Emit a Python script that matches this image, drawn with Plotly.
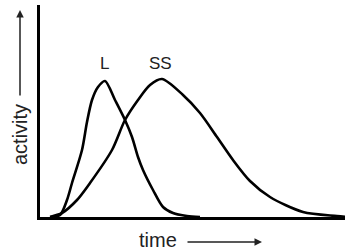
import plotly.graph_objects as go

# time / activity samples (arbitrary units)
l_time = [10, 20, 27, 32, 42, 47, 52, 58, 65, 75, 85, 92, 98, 103, 113, 123, 133, 147, 160]
l_activity = [0, 2, 17, 34, 67, 95, 117, 130, 136, 117, 97, 80, 60, 47, 27, 10, 4, 1, 0]

ss_time = [10, 22, 37, 50, 72, 85, 98, 110, 122, 143, 160, 177, 193, 210, 230, 263, 297, 307]
ss_activity = [0, 4, 17, 34, 67, 97, 117, 132, 138, 122, 104, 80, 57, 36, 20, 5, 1, 0]

curve_labels = ["L", "SS"]
label_time = [64, 120]
label_activity = [154, 154]

W, H = 347, 251
ML, MR, MT, MB = 40, 2, 5, 34
pw, ph = W - ML - MR, H - MT - MB

def px(x):
    return (x - ML) / pw

def py(y):
    return (H - MB - y) / ph

FONT = "Liberation Sans, Arial, sans-serif"

fig = go.Figure()
for t, a in [(l_time, l_activity), (ss_time, ss_activity)]:
    fig.add_trace(go.Scatter(x=t, y=a, mode="lines", line=dict(color="black", width=2.6, shape="spline", smoothing=0.8),
                             hoverinfo="skip", showlegend=False))

for lab, x, y in zip(curve_labels, label_time, label_activity):
    fig.add_annotation(x=x, y=y, text=lab, showarrow=False, xanchor="center", yanchor="middle",
                       font=dict(size=17, color="#222", family=FONT))

fig.add_annotation(xref="paper", yref="paper", x=px(158), y=py(240), text="time", showarrow=False,
                   xanchor="center", yanchor="middle", font=dict(size=20, color="#222", family=FONT))
fig.add_annotation(xref="paper", yref="paper", x=px(262), y=py(242), text="", showarrow=True,
                   ax=-76, ay=0, arrowhead=2, arrowsize=1, arrowwidth=1.5, arrowcolor="#222")
fig.add_annotation(xref="paper", yref="paper", x=px(20), y=py(135), text="activity", textangle=-90, showarrow=False,
                   xanchor="center", yanchor="middle", font=dict(size=20, color="#222", family=FONT))
fig.add_annotation(xref="paper", yref="paper", x=px(20), y=py(10), text="", showarrow=True,
                   ax=0, ay=87, arrowhead=2, arrowsize=1, arrowwidth=1.5, arrowcolor="#222")

axis_common = dict(showline=True, linewidth=3, linecolor="black", showgrid=False, zeroline=False,
                   showticklabels=False, ticks="", fixedrange=True)
fig.update_xaxes(range=[0, pw], **axis_common)
fig.update_yaxes(range=[0, ph], **axis_common)
fig.update_layout(width=W, height=H, margin=dict(l=ML, r=MR, t=MT, b=MB),
                  paper_bgcolor="white", plot_bgcolor="white")
fig.write_html("out.html", config={"displayModeBar": False},
               post_script="document.body.style.margin='0px';")
